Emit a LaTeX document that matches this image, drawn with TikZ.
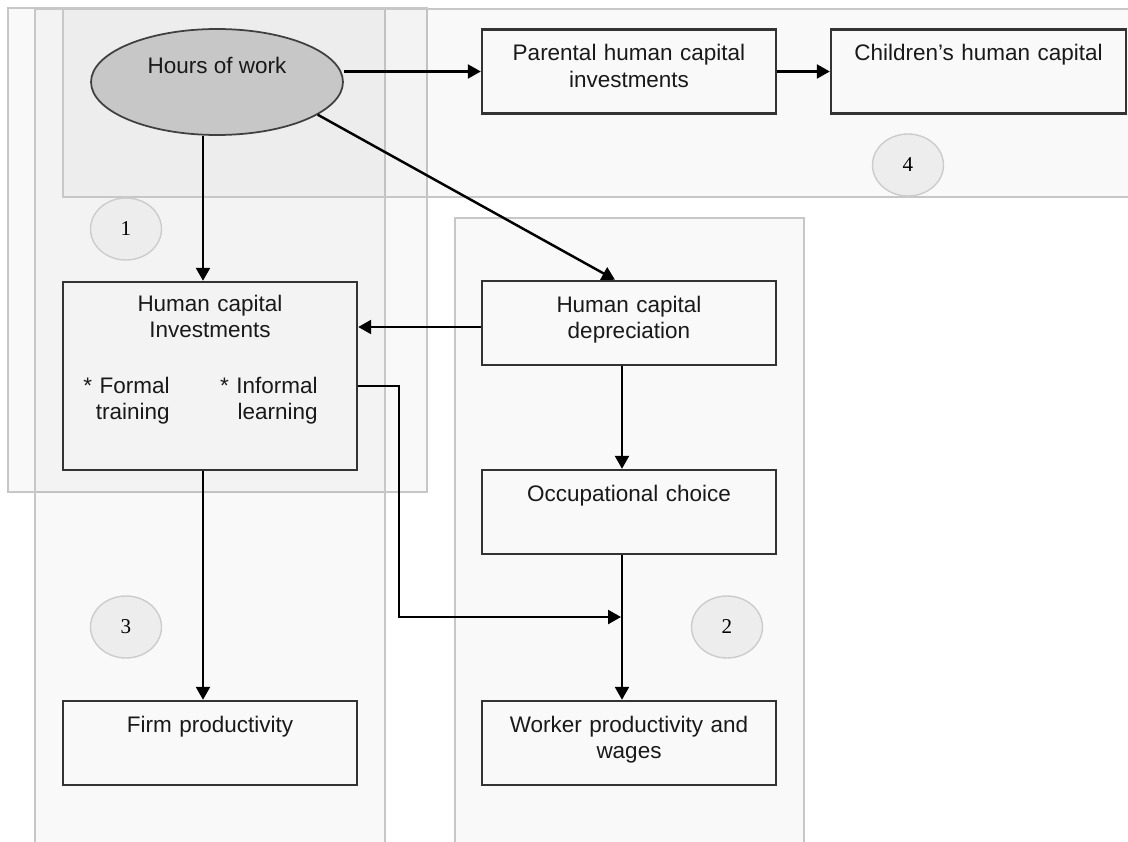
\documentclass[tikz,border=0pt]{standalone}
\usepackage{fontspec}
\setmainfont{Liberation Sans}
\newfontfamily\numfont{Liberation Serif}
\usetikzlibrary{arrows.meta,shapes.geometric,calc}

\begin{document}
\begin{tikzpicture}[x=0.02cm,y=-0.02cm,
    font=\fontsize{12.8}{15.3}\selectfont,
    region/.style={draw=black!22,line width=0.8pt,fill=black,fill opacity=0.025},
    box/.style={draw=black!80,line width=1.4pt,inner sep=0pt,text width=5.88cm,
      align=center,text height=0.62cm,text depth=1.06cm,text=black!90},
    tag/.style={ellipse,draw=black!20,line width=0.8pt,fill=black!7,inner sep=0pt,
      minimum width=1.42cm,minimum height=1.24cm,font=\numfont\fontsize{12}{14}\selectfont},
    arr/.style={line width=1.4pt,-{Triangle[length=0.26cm,width=0.28cm]}}]

      \useasboundingbox (0,0) rectangle (1128,841);

      % shaded groups
      \draw[region] (8,8)    rectangle (427,492);
      \draw[region] (35,9)   rectangle (385,850);
      \draw[region] (63,9)   rectangle (1140,197);
      \draw[region] (455,218) rectangle (804,850);

      \node[ellipse,draw=black!75,line width=1pt,fill=black!22,inner sep=0pt,
        minimum width=5.04cm,minimum height=2.12cm,text height=0.14cm,text depth=0.5cm,
        text=black!90] (hours) at (217,82) {Hours of work};

      \begin{scope}[every node/.style={box}]
        \node (parental) at (629,71.5)  {Parental human capital\\investments};
        \node[text width=5.9cm] (children) at (978.5,71.5) {Children's human capital};
        \node[text height=0.58cm,text depth=3.18cm] (invest) at (210,376)
          {Human capital\\Investments};
        \node (dep)    at (629,323) {Human capital\\depreciation};
        \node (occ)    at (629,512) {Occupational choice};
        \node (firm)   at (210,743) {Firm productivity};
        \node (worker) at (629,743) {Worker productivity and\\wages};
      \end{scope}

      \begin{scope}[every node/.style={inner sep=0pt,align=right,anchor=base east,text=black!90}]
        \node[text width=2.2cm] (formal)   at (170,393) {* Formal\\training};
        \node[text width=2.4cm] (informal) at (318,393) {* Informal\\learning};
      \end{scope}

      \node[tag] (t1) at (126,229) {1};
      \node[tag] (t2) at (727,627) {2};
      \node[tag] (t3) at (126,627) {3};
      \node[tag] (t4) at (908,165) {4};

      \coordinate (join) at (621,617);

      \draw[arr] (hours.east |- parental.west) -- (parental.west);
      \draw[arr] (parental) -- (children);
      \draw[arr] (hours.342) -- ($(dep.north)+(-14,0)$);
      \draw[arr] ($(hours.south)+(-14,0)$) -- ($(invest.north)+(-7,0)$);
      \draw[arr] ($(dep.west)+(0,4)$) -- ($(dep.west -| invest.east)+(0,4)$);
      \draw[arr] ($(dep.south)+(-7,0)$) -- ($(occ.north)+(-7,0)$);
      \draw[arr] ($(occ.south)+(-7,0)$) -- ($(worker.north)+(-7,0)$);
      \draw[arr] ($(invest.south)+(-7,0)$) -- ($(firm.north)+(-7,0)$);
      \draw[arr] ($(invest.east)+(0,10)$) -- ++(41,0) |- (join);

    \end{tikzpicture}
\end{document}
